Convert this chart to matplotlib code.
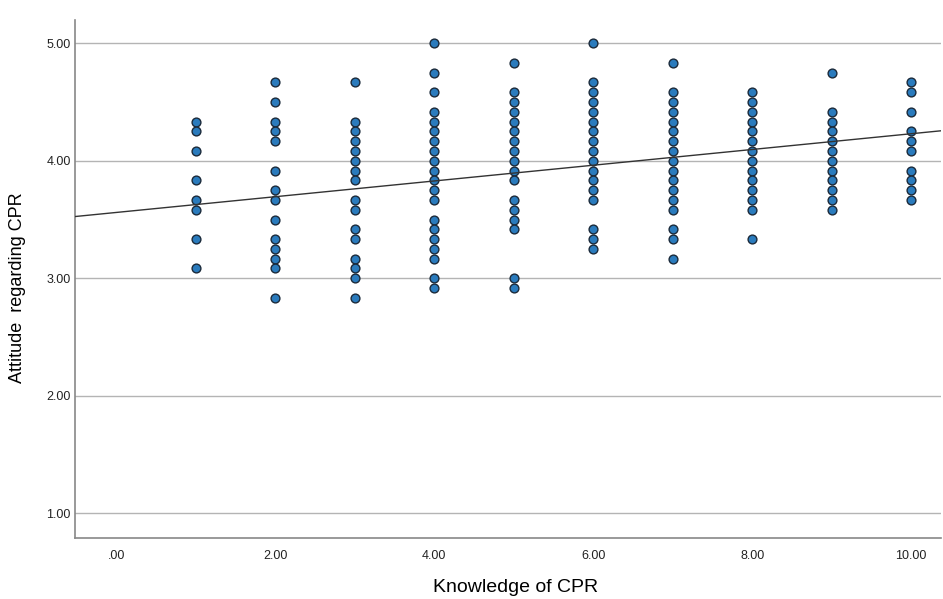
import matplotlib
matplotlib.use('Agg')
import matplotlib.pyplot as plt
from matplotlib.ticker import FuncFormatter

plt.rcParams['font.family'] = ['Liberation Sans', 'DejaVu Sans']

# Attitude scores, as twelfths below 5.00 (5 - k/12)
knowledge = [1, 2, 3, 4, 5, 6, 7, 8, 9, 10]
attitude_steps = [
    [8, 9, 11, 14, 16, 17, 20, 23],
    [4, 6, 8, 9, 10, 13, 15, 16, 18, 20, 21, 22, 23, 26],
    [4, 8, 9, 10, 11, 12, 13, 14, 16, 17, 19, 20, 22, 23, 24, 26],
    [0, 3, 5, 7, 8, 9, 10, 11, 12, 13, 14, 15, 16, 18, 19, 20, 21, 22, 24, 25],
    [2, 5, 6, 7, 8, 9, 10, 11, 12, 13, 14, 16, 17, 18, 19, 24, 25],
    [0, 4, 5, 6, 7, 8, 9, 10, 11, 12, 13, 14, 15, 16, 19, 20, 21],
    [2, 5, 6, 7, 8, 9, 10, 11, 12, 13, 14, 15, 16, 17, 19, 20, 22],
    [5, 6, 7, 8, 9, 10, 11, 12, 13, 14, 15, 16, 17, 20],
    [3, 7, 8, 9, 10, 11, 12, 13, 14, 15, 16, 17],
    [4, 5, 7, 9, 10, 11, 13, 14, 15, 16],
]

# fit line as drawn in the reference
fit_intercept = 3.56
fit_slope = 0.067

xs, ys = [], []
for k, steps in zip(knowledge, attitude_steps):
    for s in steps:
        xs.append(k)
        ys.append(5 - s / 12)

fig = plt.figure(figsize=(9.43, 5.99), dpi=100)
ax = fig.add_axes([0.0795, 0.102, 0.918, 0.865])

ax.scatter(xs, ys, s=40, color='#2a7bbd', edgecolors='#1b2a3a', linewidths=1.0, zorder=3)

xlim = (-0.52, 10.37)
ax.plot(xlim, [fit_intercept + fit_slope * x for x in xlim], color='#333333', linewidth=1.0, zorder=4)

ax.set_xlim(*xlim)
ax.set_ylim(0.79, 5.2)
ax.set_xticks([0, 2, 4, 6, 8, 10])
ax.set_yticks([1, 2, 3, 4, 5])
fmt = FuncFormatter(lambda v, p: ('%.2f' % v).lstrip('0') if v < 1 else '%.2f' % v)
ax.xaxis.set_major_formatter(fmt)
ax.yaxis.set_major_formatter(fmt)

ax.grid(axis='y', color='#b4b4b4', linewidth=1.0, zorder=0)
ax.set_axisbelow(True)
ax.tick_params(length=0, labelsize=9, colors='#222222')
ax.tick_params(axis='x', pad=9)
ax.tick_params(axis='y', pad=3)
for side in ['top', 'right']:
    ax.spines[side].set_visible(False)
for side in ['left', 'bottom']:
    ax.spines[side].set_color('#888888')
    ax.spines[side].set_linewidth(1.2)

ax.set_xlabel('Knowledge of CPR', fontsize=14)
ax.set_ylabel('Attitude  regarding CPR', fontsize=13)
ax.xaxis.set_label_coords(0.509, -0.08)
ax.yaxis.set_label_coords(-0.057, 0.483)

fig.savefig('out.png', dpi=100)
